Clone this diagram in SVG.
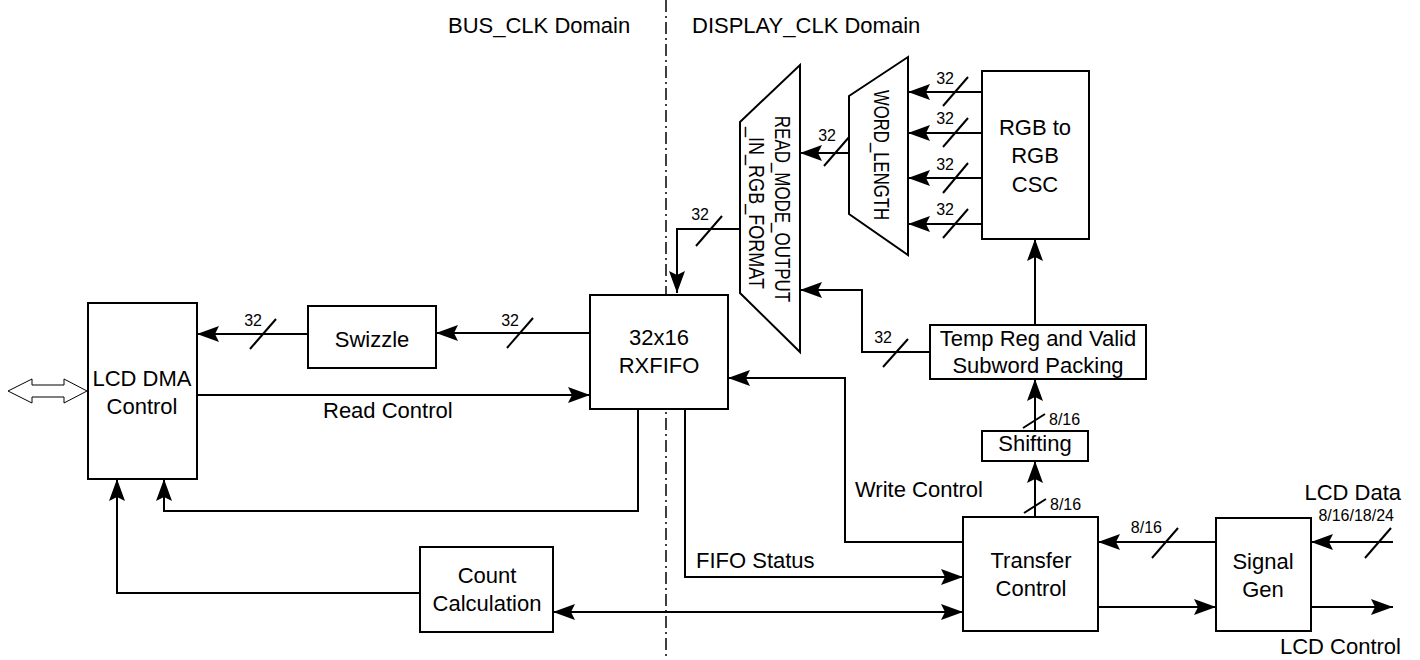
<svg xmlns="http://www.w3.org/2000/svg" width="1420" height="660" viewBox="0 0 1420 660">
<style>
.box{fill:#fff;stroke:#000;stroke-width:2}
.wire{fill:none;stroke:#000;stroke-width:2}
.sl{stroke:#000;stroke-width:2}
text{font-family:"Liberation Sans",Arial,Helvetica,sans-serif;font-size:22px;fill:#000}
.sm{font-size:16px}
.c{text-anchor:middle}
.e{text-anchor:end}
</style>
<defs>
<marker id="ah" markerUnits="userSpaceOnUse" markerWidth="22" markerHeight="16" viewBox="0 0 22 16" refX="22" refY="8" orient="auto-start-reverse">
<path d="M0,0 L22,8 L0,16 L4,8 Z" fill="#000"/>
</marker>
</defs>
<rect width="1420" height="660" fill="#fff"/>
<g id="domain-divider">
<line x1="666" y1="0" x2="666" y2="660" stroke="#000" stroke-width="1.5" stroke-dasharray="12 4 2 4"/>
<text x="448" y="33">BUS_CLK Domain</text>
<text x="692" y="33">DISPLAY_CLK Domain</text>
</g>
<g id="connectors">
<path class="wire" d="M590,333 H436" marker-end="url(#ah)"/>
<line class="sl" x1="507" y1="348" x2="533" y2="318"/>
<text class="sm e" x="519" y="326">32</text>
<path class="wire" d="M308,334 H197" marker-end="url(#ah)"/>
<line class="sl" x1="250" y1="349" x2="276" y2="319"/>
<text class="sm e" x="262" y="326">32</text>
<path class="wire" d="M197,395 H590" marker-end="url(#ah)"/>
<text x="323" y="418">Read Control</text>
<path class="wire" d="M638,409 V511 H164 V479" marker-end="url(#ah)"/>
<path class="wire" d="M420,593 H117 V479" marker-end="url(#ah)"/>
<path class="wire" d="M553,612 H963" marker-start="url(#ah)" marker-end="url(#ah)"/>
<path class="wire" d="M685,409 V577 H963" marker-end="url(#ah)"/>
<text x="696" y="568">FIFO Status</text>
<path class="wire" d="M963,542 H845 V378 H728" marker-end="url(#ah)"/>
<text x="855" y="497">Write Control</text>
<path class="wire" d="M1035,517 V461" marker-end="url(#ah)"/>
<line class="sl" x1="1024" y1="513" x2="1046" y2="499"/>
<text class="sm" x="1050" y="510">8/16</text>
<path class="wire" d="M1035,431 V379" marker-end="url(#ah)"/>
<line class="sl" x1="1023" y1="428" x2="1045" y2="414"/>
<text class="sm" x="1049" y="425">8/16</text>
<path class="wire" d="M1035,325 V239" marker-end="url(#ah)"/>
<path class="wire" d="M930,352 H862 V290 H800" marker-end="url(#ah)"/>
<line class="sl" x1="883" y1="367" x2="908" y2="339"/>
<text class="sm e" x="892" y="343">32</text>
<path class="wire" d="M982,92 H908" marker-end="url(#ah)"/>
<line class="sl" x1="943" y1="106" x2="968" y2="77"/>
<text class="sm e" x="954" y="84">32</text>
<path class="wire" d="M982,133 H908" marker-end="url(#ah)"/>
<line class="sl" x1="943" y1="147" x2="968" y2="118"/>
<text class="sm e" x="954" y="124">32</text>
<path class="wire" d="M982,178 H908" marker-end="url(#ah)"/>
<line class="sl" x1="943" y1="193" x2="968" y2="163"/>
<text class="sm e" x="954" y="170">32</text>
<path class="wire" d="M982,224 H908" marker-end="url(#ah)"/>
<line class="sl" x1="943" y1="238" x2="968" y2="209"/>
<text class="sm e" x="954" y="215">32</text>
<path class="wire" d="M849,153 H800" marker-end="url(#ah)"/>
<line class="sl" x1="824" y1="166" x2="850" y2="136"/>
<text class="sm e" x="836" y="141">32</text>
<path class="wire" d="M740,229 H677 V293" marker-end="url(#ah)"/>
<line class="sl" x1="696" y1="246" x2="722" y2="216"/>
<text class="sm e" x="709" y="220">32</text>
<path class="wire" d="M1216,542 H1098" marker-end="url(#ah)"/>
<line class="sl" x1="1152" y1="558" x2="1178" y2="528"/>
<text class="sm e" x="1162" y="533">8/16</text>
<path class="wire" d="M1098,607 H1216" marker-end="url(#ah)"/>
<path class="wire" d="M1393,542 H1311" marker-end="url(#ah)"/>
<line class="sl" x1="1365" y1="558" x2="1391" y2="528"/>
<text class="sm e" x="1394" y="521">8/16/18/24</text>
<text class="e" x="1401" y="500">LCD Data</text>
<path class="wire" d="M1311,607 H1393" marker-end="url(#ah)"/>
<text class="e" x="1401" y="654">LCD Control</text>
<polygon points="8,391 32,379 32,385 64,385 64,379 87,391 64,403 64,397 32,397 32,403" fill="#fff" stroke="#000" stroke-width="1"/>
</g>
<g id="lcd-dma-control">
<rect class="box" x="88" y="303" width="109" height="176"/>
<text class="c" x="142" y="386">LCD DMA</text>
<text class="c" x="142" y="414">Control</text>
</g>
<g id="swizzle">
<rect class="box" x="308" y="306" width="128" height="62"/>
<text class="c" x="372" y="347">Swizzle</text>
</g>
<g id="rxfifo">
<rect class="box" x="590" y="295" width="138" height="114"/>
<text class="c" x="659" y="345">32x16</text>
<text class="c" x="659" y="373">RXFIFO</text>
</g>
<g id="read-mode-mux">
<polygon class="box" points="740,122 800,65 800,352 740,293"/>
<text class="c" transform="translate(775,209) rotate(90) scale(0.77,1)">READ_MODE_OUTPUT</text>
<text class="c" transform="translate(749,208) rotate(90) scale(0.82,1)">_IN_RGB_FORMAT</text>
</g>
<g id="word-length-mux">
<polygon class="box" points="849,96 908,57 908,255 849,214"/>
<text class="c" transform="translate(874,155) rotate(90) scale(0.76,1)">WORD_LENGTH</text>
</g>
<g id="rgb-csc">
<rect class="box" x="982" y="71" width="107" height="168"/>
<text class="c" x="1035" y="135">RGB to</text>
<text class="c" x="1035" y="163">RGB</text>
<text class="c" x="1035" y="192">CSC</text>
</g>
<g id="temp-reg">
<rect class="box" x="930" y="325" width="216" height="54"/>
<text class="c" x="1038" y="346">Temp Reg and Valid</text>
<text class="c" x="1038" y="373">Subword Packing</text>
</g>
<g id="shifting">
<rect class="box" x="982" y="431" width="106" height="30"/>
<text class="c" x="1035" y="451">Shifting</text>
</g>
<g id="transfer-control">
<rect class="box" x="963" y="517" width="135" height="114"/>
<text class="c" x="1031" y="568">Transfer</text>
<text class="c" x="1031" y="596">Control</text>
</g>
<g id="signal-gen">
<rect class="box" x="1216" y="518" width="95" height="113"/>
<text class="c" x="1263" y="569">Signal</text>
<text class="c" x="1263" y="597">Gen</text>
</g>
<g id="count-calculation">
<rect class="box" x="420" y="547" width="133" height="85"/>
<text class="c" x="487" y="583">Count</text>
<text class="c" x="487" y="611">Calculation</text>
</g>
</svg>
